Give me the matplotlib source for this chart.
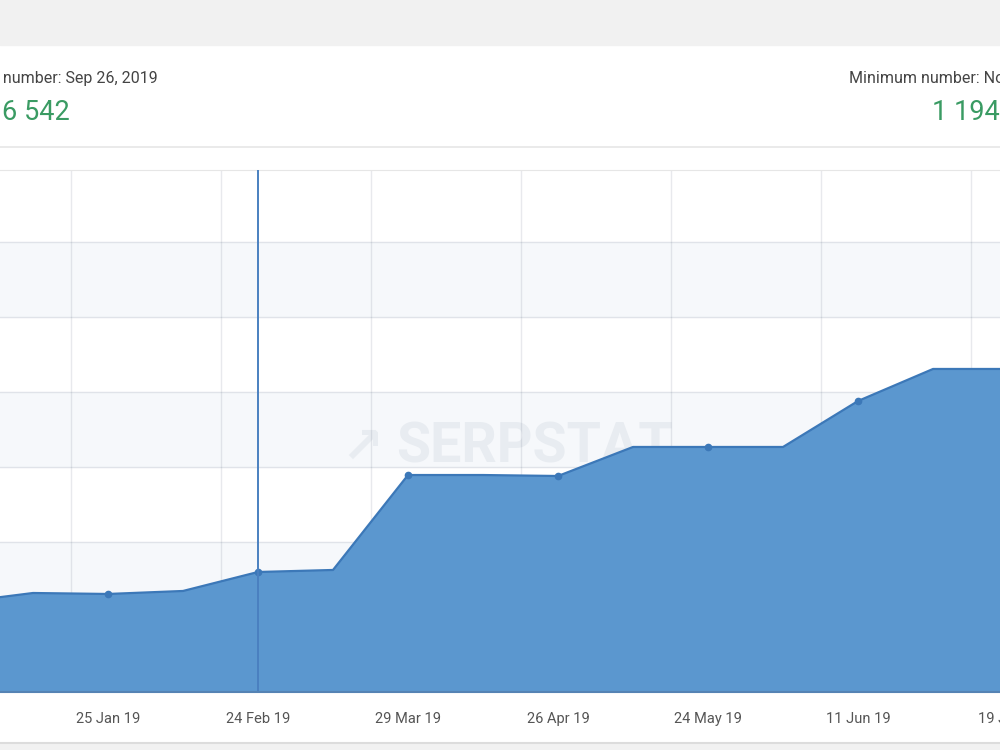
import matplotlib.pyplot as plt
from matplotlib.patches import Rectangle
from matplotlib.lines import Line2D
from matplotlib.transforms import blended_transform_factory

plt.rcParams['font.family'] = ['Roboto', 'DejaVu Sans']

# Data (one point per category slot)
values = [1194, 1320, 1307, 1347, 1600, 1627, 2893, 2893, 2880,
          3267, 3267, 3267, 3880, 4307, 4307]
label_positions = [2, 4, 6, 8, 10, 12, 14]
tick_labels = ["25 Jan 19", "24 Feb 19", "29 Mar 19", "26 Apr 19",
               "24 May 19", "11 Jun 19", "19 Jul 19"]
highlight_index = 4
max_label = "Maximum number: Sep 26, 2019"
max_value = "6 542"
min_label = "Minimum number: Nov 29, 2018"
min_value = "1 194"

x = list(range(len(values)))

fig = plt.figure(figsize=(10, 7.5), dpi=100)
fig.patch.set_facecolor('white')

# page background pieces (grey band on top and bottom)
fig.add_artist(Rectangle((0, 1 - 45 / 750), 1, 45 / 750, transform=fig.transFigure,
                         color='#f1f1f1', zorder=0))
fig.add_artist(Rectangle((0, 0), 1, 7 / 750, transform=fig.transFigure,
                         color='#f1f1f1', zorder=0))
fig.add_artist(Line2D([0, 1], [7 / 750, 7 / 750], transform=fig.transFigure,
                      color='#dcdcdc', lw=1.5))
fig.add_artist(Line2D([0, 1], [1 - 147 / 750, 1 - 147 / 750], transform=fig.transFigure,
                      color='#e6e6e6', lw=1.2))

# header texts (cropped at the edges, as in the screenshot)
fig.text(158 / 1000, 1 - 78 / 750, max_label, ha='right', va='center',
         fontsize=11.5, color='#444444')
fig.text(70 / 1000, 1 - 112 / 750, max_value, ha='right', va='center',
         fontsize=19.5, color='#3a9b63')
fig.text(849 / 1000, 1 - 78 / 750, min_label, ha='left', va='center',
         fontsize=11.5, color='#444444')
fig.text(932 / 1000, 1 - 112 / 750, min_value, ha='left', va='center',
         fontsize=19.5, color='#3a9b63')

ax = fig.add_axes([0, 58 / 750, 1, 522 / 750])
ax.set_xlim(0.56, 13.893)
ax.set_ylim(0, 6960)

# alternating bands
for lo in (1000, 3000, 5000):
    ax.axhspan(lo, lo + 1000, color='#f6f8fb', zorder=0)

ax.set_yticks(range(0, 7000, 1000))
ax.set_xticks([p + 0.5 for p in range(1, 15, 2)])
ax.grid(True, color='#203050', alpha=0.10, lw=1, zorder=3)
ax.tick_params(left=False, bottom=False, labelleft=False, labelbottom=False)

ax.fill_between(x, values, color='#5b97cf', zorder=2, lw=0)
ax.plot(x, values, color='#3c78b8', lw=1.6, zorder=4)
ax.plot(label_positions, [values[i] for i in label_positions], 'o',
        color='#3c78b8', ms=4.5, zorder=5)

ax.axvline(highlight_index, color='#4a80c0', lw=1.4, zorder=6)

# watermark
ax.text(0.534, 0.468, "SERPSTAT", transform=ax.transAxes, ha='center', va='center',
        fontsize=40, fontweight='bold', color='#e8ecf1', zorder=1)
ax.text(0.362, 0.468, "\u2197", transform=ax.transAxes, ha='center', va='center',
        fontsize=36, fontweight='bold', color='#e8ecf1', zorder=1,
        family=['DejaVu Sans'])

for sp in ('left', 'right'):
    ax.spines[sp].set_visible(False)
ax.spines['top'].set_color('#e6e6e6')
ax.spines['bottom'].set_color('#5583b4')
ax.spines['bottom'].set_linewidth(1.5)
ax.spines['bottom'].set_zorder(7)

trans = blended_transform_factory(ax.transData, ax.transAxes)
for pos, lab in zip(label_positions, tick_labels):
    ax.text(pos, -27 / 522, lab, transform=trans, ha='center', va='center',
            fontsize=10.5, color='#555555', clip_on=False)

fig.savefig('out.png', dpi=100)
